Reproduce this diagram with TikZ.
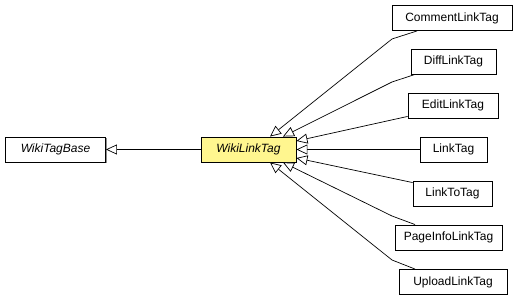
\documentclass[tikz,border=0pt]{standalone}
\usepackage{fontspec}
\setmainfont{Liberation Sans}
\usetikzlibrary{arrows.meta,shadows}
\begin{document}
\begin{tikzpicture}[x=1pt,y=1pt,
  cls/.style={draw=black, line width=0.9pt, fill=white, minimum height=25pt,
    inner sep=0pt, font=\fontsize{12}{14}\selectfont,
    drop shadow={shadow xshift=1pt, shadow yshift=-1pt, fill=black!45, opacity=1}},
  focus/.style={cls, fill=yellow!45!orange!30!white},
  inh/.style={draw=black, line width=0.7pt,
    -{Triangle[open, length=11pt, width=10pt, fill=white]}}
]
\useasboundingbox (0,0) rectangle (520,300);

% class boxes
\node[cls, minimum width=100pt] (base) at (55.5,150.5) {\itshape WikiTagBase};
\node[focus, minimum width=95pt, fill={rgb,255:red,255;green,246;blue,143}] (wl) at (248.5,150.5) {\itshape WikiLinkTag};
\node[cls, minimum width=120pt] (cm) at (452,282) {CommentLinkTag};
\node[cls, minimum width=85pt] (df) at (453.5,238.5) {DiffLinkTag};
\node[cls, minimum width=90pt] (ed) at (453,194.5) {EditLinkTag};
\node[cls, minimum width=67pt] (lt) at (453.5,150.5) {LinkTag};
\node[cls, minimum width=79pt] (l2) at (452.5,106.5) {LinkToTag};
\node[cls, minimum width=107pt] (pi) at (448.5,62.5) {PageInfoLinkTag};
\node[cls, minimum width=108pt] (up) at (453,18) {UploadLinkTag};

% bend points of the routed edges
\coordinate (bcm) at (392,261);
\coordinate (bdf) at (392,218);
\coordinate (bpi) at (392,84);
\coordinate (bup) at (392,40);

% generalisation edges
\draw[inh] (wl) -- (base);
\draw[inh] ([xshift=-35pt]cm.south) -- (bcm) -- ([xshift=21.5pt]wl.north);
\draw[inh] ([xshift=-38.5pt]df.south) -- (bdf) -- ([xshift=34.5pt]wl.north);
\draw[inh] ([yshift=2pt]ed.south west) -- ([yshift=8.5pt]wl.east);
\draw[inh] (lt) -- (wl);
\draw[inh] ([yshift=-2pt]l2.north west) -- ([yshift=-8.5pt]wl.east);
\draw[inh] ([xshift=-33.5pt]pi.north) -- (bpi) -- ([xshift=34.5pt]wl.south);
\draw[inh] ([xshift=-38pt]up.north) -- (bup) -- ([xshift=21.5pt]wl.south);
\end{tikzpicture}
\end{document}
